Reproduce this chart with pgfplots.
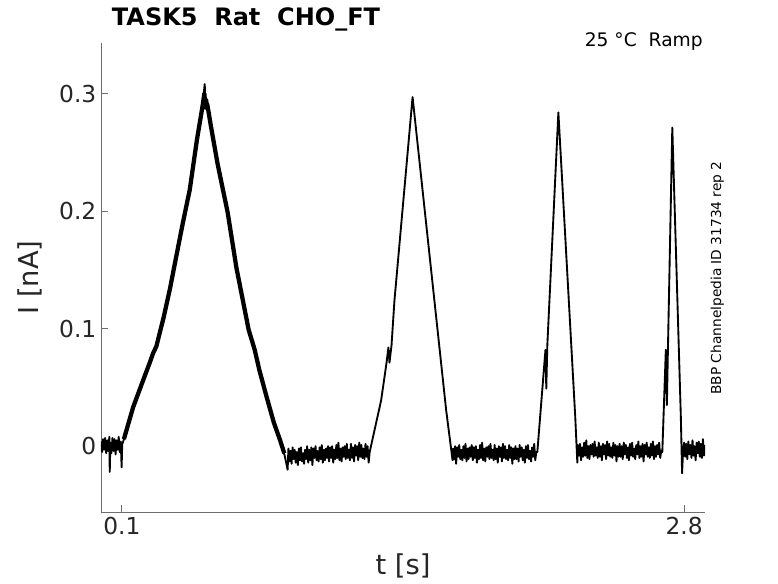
\documentclass[border=0pt]{standalone}
\usepackage{fontspec}
\setmainfont{DejaVu Sans}
\usepackage{pgfplots}
\pgfplotsset{compat=1.18}
\definecolor{axgray}{RGB}{110,110,110}
\definecolor{txtgray}{RGB}{38,38,38}
\begin{document}
\begin{tikzpicture}
\useasboundingbox (-75.75pt,-53.25pt) rectangle (507.75pt,384pt);
\begin{axis}[
  at={(0,0)}, anchor=south west,
  width=453pt, height=351.75pt, scale only axis,
  xmin=0, xmax=2.9, ymin=-0.056, ymax=0.343,
  axis x line*=bottom, axis y line*=left,
  axis line style={axgray, line width=0.6pt, -},
  xtick={0.1,2.8}, ytick={0,0.1,0.2,0.3},
  tick align=inside, major tick length=5pt,
  tick style={axgray, line width=0.6pt},
  /pgf/number format/assume math mode=true,
  ticklabel style={font=\fontsize{17.5}{21}\selectfont, text=txtgray},
  yticklabel style={/pgf/number format/fixed, /pgf/number format/precision=1},
  xlabel={t [s]}, ylabel={I [nA]},
  label style={font=\fontsize{20.5}{24}\selectfont, text=txtgray},
  xlabel style={at={([yshift=-47pt]axis description cs:0.5,0)}, anchor=base},
  ylabel style={at={([xshift=-47pt]axis description cs:0,0.5)}, anchor=base},
  line join=round,
]
% full trace
\addplot[black, line width=1.4pt, line join=round] coordinates {
(0.000,0.004)(0.005,-0.005)(0.010,0.006)(0.015,-0.003)(0.020,0.007)(0.025,-0.006)(0.030,0.005)(0.035,-0.004)(0.040,0.008)(0.042,-0.022)(0.045,0.003)(0.050,-0.006)(0.055,0.007)(0.060,-0.004)(0.065,0.006)(0.070,-0.007)(0.075,0.005)(0.080,-0.003)(0.085,0.008)(0.090,-0.005)(0.095,0.004)(0.099,-0.018)(0.102,0.002)(0.105,0.003)
(0.154,0.033)(0.200,0.055)(0.234,0.071)(0.250,0.079)(0.266,0.085)(0.300,0.109)(0.330,0.133)(0.393,0.190)(0.426,0.218)(0.460,0.260)(0.490,0.295)(0.498,0.308)(0.502,0.290)(0.510,0.295)(0.530,0.270)(0.560,0.240)(0.608,0.199)(0.650,0.152)(0.709,0.099)(0.738,0.082)(0.760,0.065)(0.795,0.042)(0.830,0.020)(0.860,0.005)(0.882,-0.008)(0.896,-0.020)
(0.900,-0.002)(0.905,-0.013)(0.910,-0.004)(0.915,-0.015)(0.920,-0.001)(0.925,-0.011)(0.930,-0.003)(0.935,-0.014)(0.940,-0.005)(0.945,-0.016)(0.950,-0.002)(0.955,-0.012)(0.960,-0.001)(0.965,-0.013)(0.970,-0.006)(0.975,-0.015)(0.980,-0.003)(0.985,-0.011)(0.990,0.000)(0.995,-0.014)
(1.000,-0.003)(1.005,-0.012)(1.010,-0.001)(1.015,-0.016)(1.020,-0.002)(1.025,-0.010)(1.030,0.000)(1.035,-0.012)(1.040,-0.004)(1.045,-0.013)(1.050,-0.001)(1.055,-0.011)(1.060,0.001)(1.065,-0.014)(1.070,-0.003)(1.075,-0.012)(1.080,-0.002)(1.085,-0.010)(1.090,0.000)(1.095,-0.013)
(1.100,-0.001)(1.105,-0.010)(1.110,0.000)(1.115,-0.014)(1.120,-0.003)(1.125,-0.011)(1.130,0.001)(1.135,-0.010)(1.140,0.003)(1.145,-0.012)(1.150,-0.002)(1.155,-0.013)(1.160,-0.001)(1.165,-0.009)(1.170,0.000)(1.175,-0.011)(1.180,0.002)(1.185,-0.010)(1.190,-0.003)(1.195,-0.012)
(1.200,0.002)(1.205,-0.010)(1.210,-0.001)(1.215,-0.013)(1.220,0.001)(1.225,-0.008)(1.230,0.000)(1.235,-0.012)(1.240,0.003)(1.245,-0.009)(1.250,0.001)(1.255,-0.010)(1.260,-0.002)(1.265,-0.011)(1.270,0.002)(1.275,-0.009)(1.280,0.000)(1.285,-0.014)
(1.290,-0.005)(1.345,0.039)(1.371,0.071)(1.380,0.084)(1.385,0.071)(1.395,0.086)(1.409,0.124)(1.496,0.297)(1.657,0.031)(1.688,-0.012)
(1.690,-0.002)(1.695,-0.011)(1.700,0.000)(1.705,-0.015)(1.710,-0.001)(1.715,-0.009)(1.720,0.001)(1.725,-0.011)(1.730,-0.003)(1.735,-0.012)(1.740,0.000)(1.745,-0.010)(1.750,0.002)(1.755,-0.013)(1.760,-0.002)(1.765,-0.011)(1.770,-0.001)(1.775,-0.009)(1.780,0.001)(1.785,-0.012)
(1.790,-0.001)(1.795,-0.010)(1.800,0.000)(1.805,-0.014)(1.810,-0.003)(1.815,-0.011)(1.820,0.001)(1.825,-0.010)(1.830,0.003)(1.835,-0.012)(1.840,-0.002)(1.845,-0.013)(1.850,-0.001)(1.855,-0.009)(1.860,0.000)(1.865,-0.011)(1.870,0.002)(1.875,-0.010)(1.880,-0.003)(1.885,-0.012)
(1.890,0.001)(1.895,-0.011)(1.900,-0.002)(1.905,-0.014)(1.910,0.000)(1.915,-0.009)(1.920,-0.001)(1.925,-0.013)(1.930,0.002)(1.935,-0.010)(1.940,0.000)(1.945,-0.011)(1.950,-0.003)(1.955,-0.012)(1.960,0.001)(1.965,-0.010)(1.970,-0.001)(1.975,-0.015)(1.980,-0.002)(1.985,-0.011)
(1.990,0.000)(1.995,-0.011)(2.000,-0.002)(2.005,-0.013)(2.010,0.001)(2.015,-0.009)(2.020,-0.001)(2.025,-0.012)(2.030,-0.003)(2.035,-0.014)(2.040,0.000)(2.045,-0.010)(2.050,0.001)(2.055,-0.011)(2.060,-0.004)(2.065,-0.013)(2.070,-0.001)(2.075,-0.009)(2.080,0.002)(2.085,-0.012)(2.090,-0.005)
(2.095,-0.005)(2.134,0.082)(2.138,0.049)(2.143,0.086)(2.196,0.284)(2.277,0.025)(2.287,-0.014)
(2.290,0.001)(2.295,-0.008)(2.300,0.002)(2.305,-0.012)(2.310,-0.001)(2.315,-0.009)(2.320,0.003)(2.325,-0.008)(2.330,0.005)(2.335,-0.010)(2.340,0.000)(2.345,-0.011)(2.350,0.001)(2.355,-0.007)(2.360,0.002)(2.365,-0.009)(2.370,0.004)(2.375,-0.008)(2.380,-0.001)(2.385,-0.010)
(2.390,0.003)(2.395,-0.009)(2.400,0.000)(2.405,-0.012)(2.410,0.002)(2.415,-0.007)(2.420,0.001)(2.425,-0.011)(2.430,0.004)(2.435,-0.008)(2.440,0.002)(2.445,-0.009)(2.450,-0.001)(2.455,-0.010)(2.460,0.003)(2.465,-0.008)(2.470,0.001)(2.475,-0.013)(2.480,0.000)(2.485,-0.009)
(2.490,0.002)(2.495,-0.009)(2.500,0.000)(2.505,-0.011)(2.510,0.003)(2.515,-0.007)(2.520,0.001)(2.525,-0.010)(2.530,-0.001)(2.535,-0.012)(2.540,0.002)(2.545,-0.008)(2.550,0.003)(2.555,-0.009)(2.560,-0.002)(2.565,-0.011)(2.570,0.001)(2.575,-0.007)(2.580,0.004)(2.585,-0.010)
(2.590,0.000)(2.595,-0.009)(2.600,0.002)(2.605,-0.013)(2.610,0.001)(2.615,-0.007)(2.620,0.003)(2.625,-0.009)(2.630,-0.001)(2.635,-0.010)(2.640,0.002)(2.645,-0.008)(2.650,0.004)(2.655,-0.011)(2.660,0.000)(2.665,-0.009)(2.670,0.001)(2.675,-0.007)(2.680,0.003)(2.685,-0.010)(2.690,-0.004)
(2.695,-0.005)(2.712,0.082)(2.717,0.035)(2.721,0.073)(2.743,0.271)(2.784,0.025)(2.790,-0.023)(2.795,-0.003)
(2.800,0.003)(2.805,-0.009)(2.810,0.002)(2.815,-0.011)(2.820,0.004)(2.825,-0.007)(2.830,0.001)(2.835,-0.010)(2.840,0.005)(2.845,-0.008)(2.850,0.000)(2.855,-0.012)(2.860,0.003)(2.865,-0.006)(2.870,0.004)(2.875,-0.009)(2.880,0.002)(2.885,-0.010)(2.890,0.006)(2.895,-0.008)(2.900,0.001)
};
% overlapping sweeps thicken the first ramp
\addplot[black, line width=3.2pt, line join=round] coordinates {
(0.110,0.006)(0.154,0.033)(0.200,0.055)(0.234,0.071)(0.250,0.079)(0.266,0.085)(0.300,0.109)(0.330,0.133)(0.393,0.190)(0.426,0.218)(0.460,0.260)(0.490,0.292)(0.496,0.300)(0.502,0.288)(0.510,0.291)(0.530,0.270)(0.560,0.240)(0.608,0.199)(0.650,0.152)(0.709,0.099)(0.738,0.082)(0.760,0.065)(0.795,0.042)(0.830,0.020)(0.860,0.005)(0.880,-0.006)
};
\end{axis}
\node[anchor=base, inner sep=0pt, font=\bfseries\fontsize{18}{22}\selectfont] at (108.75pt,364.5pt) {TASK5\ \ Rat\ \ CHO\_FT};
\node[anchor=base east, inner sep=0pt, font=\fontsize{14}{16}\selectfont] at (451.5pt,348.75pt) {25 °C\ \ Ramp};
\node[rotate=90, anchor=base, inner sep=0pt, font=\fontsize{10.3}{12}\selectfont] at (465pt,175.5pt) {BBP Channelpedia ID 31734 rep 2};
\end{tikzpicture}
\end{document}
